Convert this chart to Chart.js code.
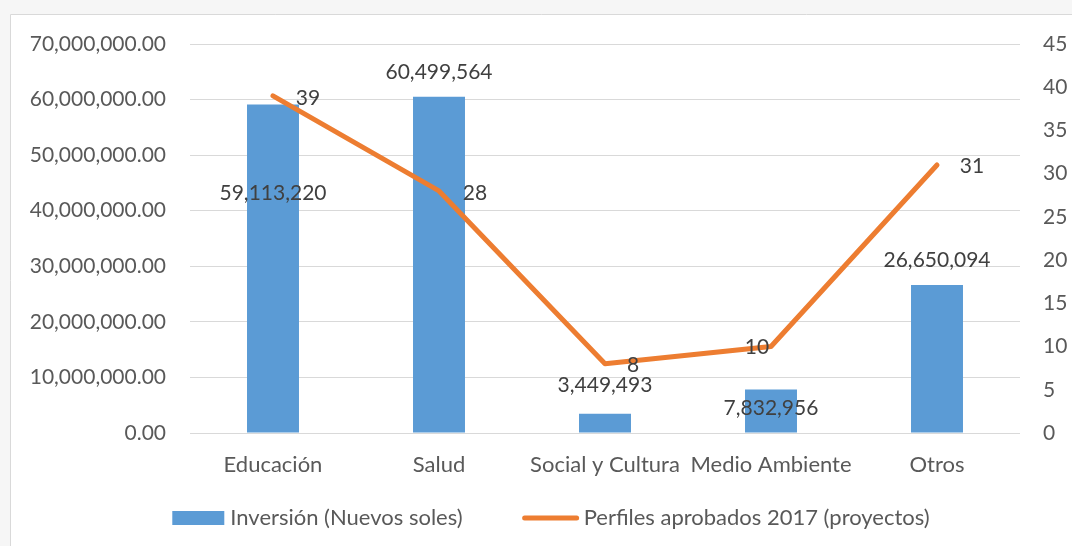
<!DOCTYPE html>
<html><head><meta charset="utf-8">
<script src="https://cdn.jsdelivr.net/npm/chart.js@4.4.0/dist/chart.umd.min.js"></script>
<style>html,body{margin:0;padding:0;background:#fff}canvas{display:block}</style>
</head>
<body>
<canvas id="c" width="1072" height="546"></canvas>
<script>
const categories = ['Educación', 'Salud', 'Social y Cultura', 'Medio Ambiente', 'Otros'];
const inversion = [59113220, 60499564, 3449493, 7832956, 26650094];
const perfiles = [39, 28, 8, 10, 31];
const seriesNames = ['Inversión (Nuevos soles)', 'Perfiles aprobados 2017 (proyectos)'];
const leftAxis = { min: 0, max: 70000000, step: 10000000 };
const rightAxis = { min: 0, max: 45, step: 5 };

// label placement (style only)
const barLabelDy = [89, -25, -29, 19, -25];
const lineLabelD = [[35, 2], [36, 2], [28, 1], [-14, 1], [35, 1]];

const FONT = 'Lato, "Open Sans", sans-serif';
const FS = 21;
const FS_TXT = 22;
const TXT = '#595959';
const LBL = '#404040';
const BLUE = '#5B9BD5';
const ORANGE = '#ED7D31';

const fmtInt = v => Math.round(v).toLocaleString('en-US');
const fmt2 = v => Number(v).toLocaleString('en-US', { minimumFractionDigits: 2, maximumFractionDigits: 2 });

const framePlugin = {
  id: 'frame',
  beforeDraw(chart) {
    const ctx = chart.ctx;
    ctx.save();
    ctx.fillStyle = '#f6f6f6';
    ctx.fillRect(0, 0, chart.width, chart.height);
    ctx.fillStyle = '#ffffff';
    ctx.fillRect(10, 14, chart.width - 10, chart.height - 14);
    ctx.strokeStyle = '#d9d9d9';
    ctx.lineWidth = 1;
    ctx.beginPath();
    ctx.moveTo(10.5, chart.height);
    ctx.lineTo(10.5, 14.5);
    ctx.lineTo(chart.width, 14.5);
    ctx.stroke();
    ctx.restore();
  }
};

const labelPlugin = {
  id: 'vals',
  afterDatasetsDraw(chart) {
    const ctx = chart.ctx;
    ctx.save();
    ctx.font = FS + 'px ' + FONT;
    ctx.fillStyle = LBL;
    ctx.textAlign = 'center';
    ctx.textBaseline = 'middle';
    const bm = chart.getDatasetMeta(0);
    bm.data.forEach((el, i) => {
      ctx.fillText(fmtInt(inversion[i]), el.x, el.y + barLabelDy[i]);
    });
    const lm = chart.getDatasetMeta(1);
    lm.data.forEach((el, i) => {
      ctx.fillText(String(perfiles[i]), el.x + lineLabelD[i][0], el.y + lineLabelD[i][1]);
    });
    ctx.restore();
  }
};

const legendPlugin = {
  id: 'customLegend',
  afterDraw(chart) {
    const ctx = chart.ctx;
    ctx.save();
    ctx.font = FS_TXT + 'px ' + FONT;
    ctx.textBaseline = 'middle';
    ctx.textAlign = 'left';
    const w1 = ctx.measureText(seriesNames[0]).width;
    const w2 = ctx.measureText(seriesNames[1]).width;
    const total = 52 + 6 + w1 + 60 + 56 + 5 + w2;
    let x = chart.width / 2 + 15 - total / 2;
    const y = 518;
    ctx.fillStyle = BLUE;
    ctx.fillRect(x, y - 7, 52, 14);
    x += 58;
    ctx.fillStyle = TXT;
    ctx.fillText(seriesNames[0], x, y);
    x += w1 + 60;
    ctx.strokeStyle = ORANGE;
    ctx.lineWidth = 5;
    ctx.lineCap = 'round';
    ctx.beginPath();
    ctx.moveTo(x + 2, y);
    ctx.lineTo(x + 54, y);
    ctx.stroke();
    x += 61;
    ctx.fillText(seriesNames[1], x, y);
    ctx.restore();
  }
};

new Chart(document.getElementById('c'), {
  data: {
    labels: categories,
    datasets: [
      {
        type: 'bar',
        label: seriesNames[0],
        data: inversion,
        backgroundColor: BLUE,
        yAxisID: 'y',
        order: 2,
        barPercentage: 0.62,
        categoryPercentage: 0.505
      },
      {
        type: 'line',
        label: seriesNames[1],
        data: perfiles,
        borderColor: ORANGE,
        backgroundColor: ORANGE,
        borderWidth: 5,
        pointRadius: 0,
        tension: 0,
        borderCapStyle: 'round',
        borderJoinStyle: 'round',
        yAxisID: 'y1',
        order: 1
      }
    ]
  },
  options: {
    responsive: false,
    animation: false,
    layout: { padding: { top: 44, bottom: 63, left: 0, right: 0 } },
    plugins: {
      legend: { display: false },
      tooltip: { enabled: false }
    },
    scales: {
      x: {
        offset: true,
        grid: { display: false, drawTicks: false },
        border: { display: false },
        ticks: { color: TXT, font: { family: FONT, size: FS_TXT }, padding: 19, maxRotation: 0, autoSkip: false },
        afterFit(s) { s.height = 50; }
      },
      y: {
        position: 'left',
        min: leftAxis.min, max: leftAxis.max,
        grid: { color: '#d9d9d9', lineWidth: 1, drawTicks: false },
        border: { display: false },
        ticks: { stepSize: leftAxis.step, color: TXT, font: { family: FONT, size: FS }, padding: 24, callback: v => fmt2(v) },
        afterFit(s) { s.width = 190; }
      },
      y1: {
        position: 'right',
        min: rightAxis.min, max: rightAxis.max,
        grid: { display: false, drawTicks: false },
        border: { display: false },
        ticks: { stepSize: rightAxis.step, color: TXT, font: { family: FONT, size: FS }, padding: 23 },
        afterFit(s) { s.width = 52; }
      }
    }
  },
  plugins: [framePlugin, labelPlugin, legendPlugin]
});
</script>
</body></html>
